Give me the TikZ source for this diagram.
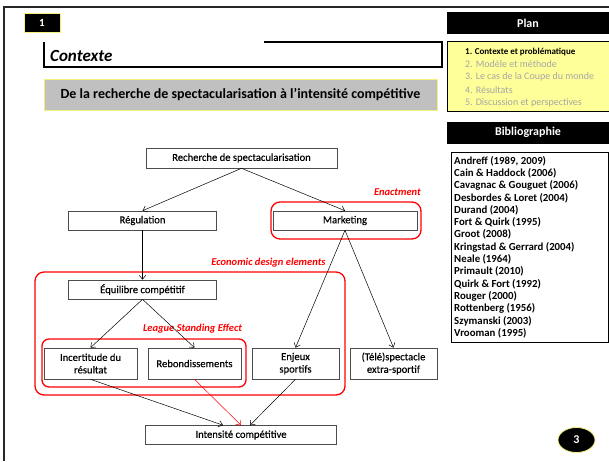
\documentclass[tikz,border=0pt]{standalone}
\usepackage{fontspec}
\setmainfont{Carlito}
\newfontfamily\boxfont{Carlito}[FakeBold=0.3]
\usetikzlibrary{arrows.meta,shapes.geometric}

\definecolor{paleyellow}{HTML}{FFFF99}
\definecolor{rimyellow}{HTML}{F5F07A}
\definecolor{slidegray}{HTML}{C0C0C0}
\definecolor{planGray}{HTML}{A6A6A6}

\tikzset{
  box/.style={draw=black!70, fill=white, inner sep=0pt, align=center,
    line width=0.6pt, font=\boxfont\fontsize{10.6}{12.5}\selectfont},
  flow/.style={-{Straight Barb[length=4pt,width=6.5pt]}, line width=0.5pt},
  zone/.style={draw=red, rounded corners=9pt, line width=1.3pt},
  zonelabel/.style={text=red, inner sep=0pt,
    font=\fontsize{10.5}{12}\selectfont\bfseries\itshape},
  headbar/.style={fill=black, text=white, inner sep=0pt,
    font=\fontsize{12}{13}\selectfont\bfseries},
  planitem/.style={anchor=west, inner sep=0pt, text=planGray,
    font=\fontsize{10}{11}\selectfont},
  bibitem/.style={anchor=west, inner sep=0pt,
    font=\fontsize{10.8}{12}\selectfont\bfseries}
}

\begin{document}
\begin{tikzpicture}[x=1pt,y=-1pt]
  \useasboundingbox (0,0) rectangle (609,461);

  % slide frame
  \draw[line width=1.5pt, black!85] (4,461) -- (4,7) -- (609,7);

  % section number and title
  \node[fill=black, draw=rimyellow, line width=0.8pt, minimum width=36,
    minimum height=19, text=white, font=\fontsize{11}{12}\selectfont\bfseries] (secnum) at (42,23) {1};
  \draw[line width=1.2pt] (264,42) -- (442,42) -- (442,67) -- (44,67) -- (44,42);
  \node[anchor=west, inner sep=0pt, font=\fontsize{17}{19}\selectfont\bfseries\itshape] (sectitle) at (50,56) {Contexte};
  \node[fill=slidegray, draw=rimyellow, line width=0.8pt, minimum width=393,
    minimum height=31, inner sep=0pt, font=\fontsize{14}{16}\selectfont\bfseries] (subtitle) at (240.5,94.5)
    {De la recherche de spectacularisation à l'intensité compétitive};

  % right panel
  \node[headbar, minimum width=162, minimum height=22] (planhead) at (528,23) {Plan};
  \draw[fill=paleyellow, line width=1pt] (447,41) rectangle (609,111);
  \node[planitem, text=black, font=\fontsize{9}{10}\selectfont\bfseries] (plan1) at (465,52) {1. Contexte et problématique};
  \node[planitem] (plan2) at (465,64) {2. Modèle et méthode};
  \node[planitem] (plan3) at (465,77) {3. Le cas de la Coupe du monde};
  \node[planitem] (plan4) at (465,90) {4. Résultats};
  \node[planitem] (plan5) at (465,103) {5. Discussion et perspectives};

  \node[headbar, minimum width=162, minimum height=22] (bibhead) at (528,132.5) {Bibliographie};
  \draw[line width=1pt] (451,152) rectangle (608.5,342);
  \foreach \ref [count=\i] in {Andreff (1989{,} 2009), Cain \& Haddock (2006),
      Cavagnac \& Gouguet (2006), Desbordes \& Loret (2004), Durand (2004),
      Fort \& Quirk (1995), Groot (2008), Kringstad \& Gerrard (2004),
      Neale (1964), Primault (2010), Quirk \& Fort (1992), Rouger (2000),
      Rottenberg (1956), Szymanski (2003), Vrooman (1995)}
    \node[bibitem] (bib\i) at (454,{161+12.3*(\i-1)}) {\ref};

  \node[ellipse, fill=black, draw=rimyellow, line width=0.8pt, minimum width=37,
    minimum height=25, inner sep=0pt, text=white, font=\fontsize{12}{13}\selectfont\bfseries] (pagenum) at (576.5,440) {3};

  % zones
  \draw[zone] (271,202) rectangle (421,239);
  \draw[zone] (35,272) rectangle (345,395);
  \draw[zone, rounded corners=7pt] (42,339) rectangle (246,387);
  \node[zonelabel, anchor=east] (enact) at (421,192) {Enactment};
  \node[zonelabel] (econ) at (268.5,263) {Economic design elements};
  \node[zonelabel] (lse) at (192.5,329) {League Standing Effect};

  % diagram
  \node[box, minimum width=191, minimum height=20] (rech) at (241.5,158) {Recherche de spectacularisation};
  \node[box, minimum width=148, minimum height=19] (regul) at (142.5,220.5) {Régulation};
  \node[box, minimum width=144, minimum height=19] (market) at (345,220.5) {Marketing};
  \node[box, minimum width=148, minimum height=19] (equil) at (142.5,289.5) {Équilibre compétitif};
  \node[box, minimum width=93, minimum height=31] (incert) at (90.5,363.5) {Incertitude du\\résultat};
  \node[box, minimum width=93, minimum height=31] (rebond) at (194.5,363.5) {Rebondissements};
  \node[box, minimum width=87, minimum height=31] (enjeux) at (295.5,363.5) {Enjeux\\sportifs};
  \node[box, minimum width=87, minimum height=31] (tele) at (393.5,363.5) {(Télé)spectacle\\extra-sportif};
  \node[box, minimum width=191, minimum height=19] (inten) at (241,435) {Intensité compétitive};

  \draw[flow] (rech.south) -- (regul.north);
  \draw[flow] (rech.south) -- (market.north);
  \draw[flow] (regul.south) -- (equil.north);
  \draw[flow] (market.south) -- (enjeux.north);
  \draw[flow] (market.south) -- (tele.north);
  \draw[flow] (equil.south) -- (incert.north);
  \draw[flow] (equil.south) -- (rebond.north);
  \draw[flow] (incert.south) -- ([xshift=-18pt]inten.north);
  \draw[flow, red] (rebond.south) -- (inten.north);
  \draw[flow] (enjeux.south) -- ([xshift=9pt]inten.north);
\end{tikzpicture}
\end{document}
